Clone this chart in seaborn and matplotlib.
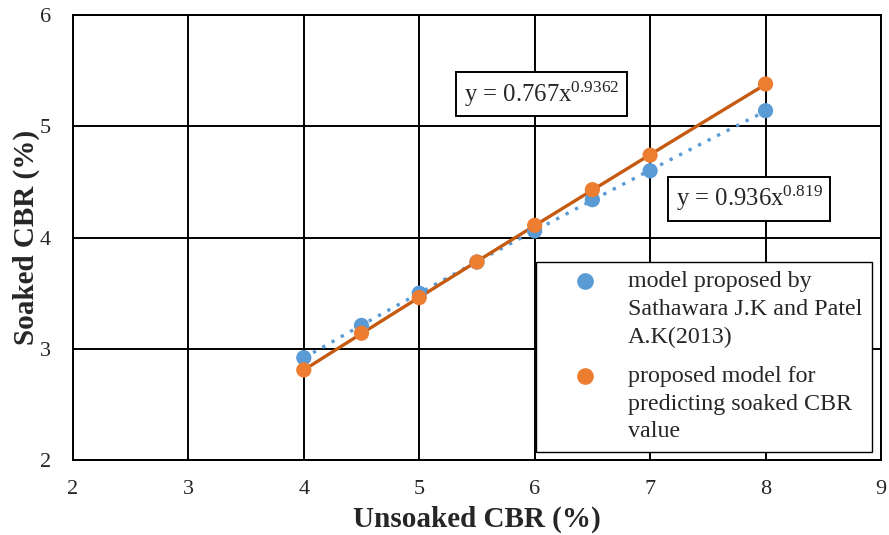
import numpy as np
import pandas as pd
import seaborn as sns
import matplotlib.pyplot as plt
from matplotlib.lines import Line2D
from matplotlib.legend_handler import HandlerBase

# values
unsoaked = [4, 4.5, 5, 5.5, 6, 6.5, 7, 8]
soaked_sathawara = [2.92, 3.21, 3.50, 3.78, 4.06, 4.34, 4.60, 5.14]
soaked_proposed = [2.81, 3.14, 3.46, 3.78, 4.11, 4.43, 4.74, 5.38]
series_names = ["model proposed by\nSathawara J.K and Patel\nA.K(2013)",
                "proposed model for\npredicting soaked CBR\nvalue"]
equations = ["y = 0.767x$^{0.9362}$", "y = 0.936x$^{0.819}$"]

df = pd.DataFrame({
    "Unsoaked": unsoaked * 2,
    "Soaked": soaked_sathawara + soaked_proposed,
    "Model": [series_names[0]] * len(unsoaked) + [series_names[1]] * len(unsoaked),
})

sns.set_style("white")
plt.rcParams["font.family"] = ["Liberation Serif", "DejaVu Serif"]
plt.rcParams["mathtext.fontset"] = "custom"
plt.rcParams["mathtext.rm"] = "Liberation Serif"
plt.rcParams["mathtext.it"] = "Liberation Serif"

palette = {series_names[0]: "#5B9BD5", series_names[1]: "#ED7D31"}


# legend marker sits next to the first line of the label, like Excel
class FirstLineHandler(HandlerBase):
    def __init__(self, shift):
        super().__init__()
        self.shift = shift

    def create_artists(self, legend, orig_handle, xdescent, ydescent, width, height, fontsize, trans):
        m = Line2D([width / 2 - xdescent], [height / 2 - ydescent + self.shift],
                   marker="o", linestyle="", color=orig_handle.get_color(),
                   markersize=orig_handle.get_markersize(), transform=trans)
        return [m]


fig, ax = plt.subplots(figsize=(8.89, 5.35), dpi=100)
fig.subplots_adjust(left=0.082, right=0.991, top=0.972, bottom=0.14)

# power trendlines (fitted in log-log space)
xs = np.linspace(4, 8, 100)
for ys, col, ls in [(soaked_sathawara, "#5B9BD5", (0, (1, 2.2))),
                    (soaked_proposed, "#C55A11", "-")]:
    b, ln_a = np.polyfit(np.log(unsoaked), np.log(ys), 1)
    ax.plot(xs, np.exp(ln_a) * xs ** b, color=col, lw=2.4, linestyle=ls, zorder=3)

sns.scatterplot(data=df, x="Unsoaked", y="Soaked", hue="Model", palette=palette,
                s=120, edgecolor="none", ax=ax, zorder=4, legend=False)

ax.set_xlim(2, 9)
ax.set_ylim(2, 6)
ax.set_xticks(range(2, 10))
ax.set_yticks(range(2, 7))
ax.grid(True, color="black", lw=1.4)
ax.set_axisbelow(True)
for sp in ax.spines.values():
    sp.set_color("black")
    sp.set_linewidth(1.4)
ax.tick_params(length=0, labelsize=16)
ax.tick_params(axis="x", pad=14)
ax.tick_params(axis="y", pad=16)
ax.set_xlabel("Unsoaked CBR (%)", fontsize=21, fontweight="bold", labelpad=5)
ax.set_ylabel("Soaked CBR (%)", fontsize=21, fontweight="bold", labelpad=0)

# equation labels
box = dict(boxstyle="square,pad=0.3", facecolor="white", edgecolor="black", lw=1.4)
ax.text(6.06, 5.29, equations[0], fontsize=17.8, ha="center", va="center", bbox=box, zorder=5)
ax.text(7.86, 4.35, equations[1], fontsize=17.8, ha="center", va="center", bbox=box, zorder=5)

handles = [Line2D([], [], marker="o", linestyle="", color=palette[n], markersize=11)
           for n in series_names]
leg = ax.legend(handles=handles, labels=series_names, loc="lower right",
                bbox_to_anchor=(0.989, 0.018), fontsize=17.3,
                frameon=True, fancybox=False, edgecolor="black", framealpha=1,
                handler_map={Line2D: FirstLineHandler(20)},
                handlelength=3.3, handletextpad=0.15, borderpad=0.4, labelspacing=0.75,
                borderaxespad=0)
for t in leg.get_texts():
    t.set_linespacing(1.42)
leg.get_frame().set_linewidth(1.0)
leg.set_zorder(6)

fig.savefig("out.png", dpi=100)
